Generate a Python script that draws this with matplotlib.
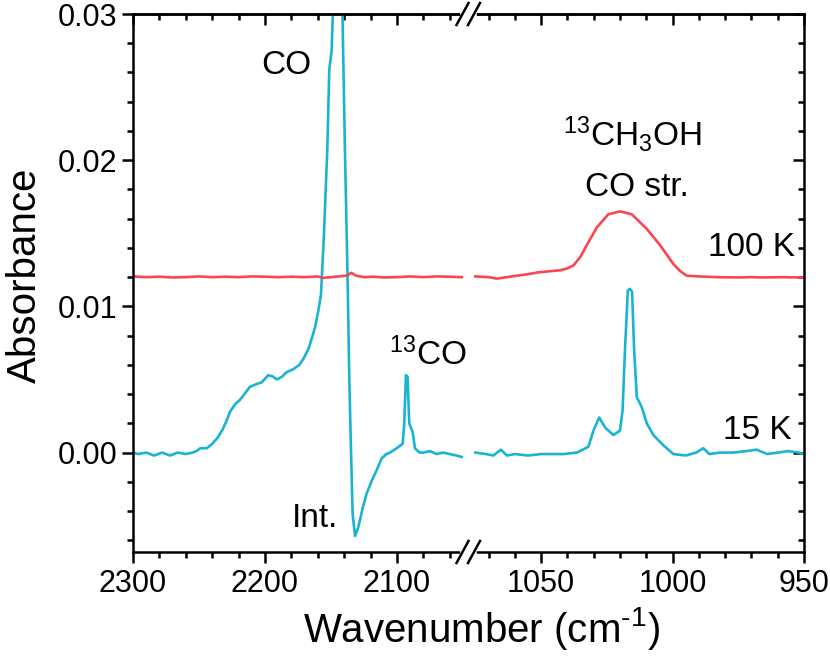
import matplotlib
matplotlib.use("Agg")
import matplotlib.pyplot as plt
from matplotlib.ticker import MultipleLocator, FormatStrFormatter
from matplotlib.lines import Line2D

plt.rcParams['font.family'] = ['Liberation Sans', 'DejaVu Sans']
plt.rcParams['mathtext.fontset'] = 'custom'
plt.rcParams['mathtext.rm'] = 'Liberation Sans'
plt.rcParams['mathtext.it'] = 'Liberation Sans:italic'
plt.rcParams['mathtext.bf'] = 'Liberation Sans:bold'

# ---------------- data ----------------
cyan_left_wn = [2300, 2296, 2290, 2284, 2278, 2272, 2266, 2260, 2255, 2252, 2249, 2244, 2240,
                2236, 2232, 2229, 2226.5, 2222.7, 2219, 2216.4, 2211.4, 2206, 2202.5, 2197.5,
                2194, 2191, 2187, 2183.6, 2178.6, 2174, 2171, 2167, 2164.6, 2162, 2159.6,
                2157.6, 2155.3, 2152.8, 2151.3, 2149.5, 2148.3, 2145, 2141.5, 2139.5, 2137.4,
                2136.1, 2134.8, 2133.6, 2131.8, 2129.3, 2126, 2123, 2119, 2115.4, 2111.6, 2108,
                2105.3, 2100.3, 2095.7, 2094.5, 2093.2, 2092, 2090.7, 2088.1, 2086.4, 2083,
                2080.3, 2075, 2070, 2065, 2060, 2055, 2051]
cyan_left_abs = [0.0000, -0.0001, 0.0000, -0.0002, 0.0000, -0.0002, 0.0000, -0.0001, 0.0000,
                 0.0001, 0.0003, 0.0003, 0.0006, 0.0010, 0.0016, 0.0022, 0.0028, 0.0033, 0.0036,
                 0.0039, 0.0045, 0.0047, 0.0048, 0.0053, 0.0052, 0.0050, 0.0052, 0.0055, 0.0057,
                 0.0060, 0.0064, 0.0071, 0.0078, 0.0086, 0.0097, 0.0108, 0.0150, 0.0207, 0.0262,
                 0.0275, 0.0310, 0.0700, 0.0310, 0.0210, 0.0118, 0.0049, 0.0000, -0.0042, -0.0057,
                 -0.0051, -0.0038, -0.0028, -0.0019, -0.0012, -0.0004, -0.0001, 0.0000, 0.0003,
                 0.0006, 0.0020, 0.0053, 0.0052, 0.0020, 0.0014, 0.0003, 0.0000, 0.0000, 0.0001,
                 -0.0001, 0.0000, -0.0001, -0.0002, -0.0003]

red_left_wn = [2300, 2290, 2280, 2270, 2260, 2250, 2240, 2230, 2220, 2210, 2200, 2190, 2180,
               2170, 2160, 2156, 2150, 2144, 2138, 2134.5, 2131, 2125, 2118, 2110, 2100, 2090,
               2080, 2070, 2060, 2051]
red_left_abs = [0.01205, 0.01200, 0.01203, 0.01198, 0.01200, 0.01205, 0.01200, 0.01203,
                0.01200, 0.01205, 0.01203, 0.01200, 0.01203, 0.01200, 0.01205, 0.01195,
                0.01200, 0.01205, 0.01210, 0.01230, 0.01210, 0.01200, 0.01203, 0.01198,
                0.01200, 0.01205, 0.01200, 0.01205, 0.01203, 0.01200]

red_right_wn = [1075, 1070, 1066.8, 1063, 1059.2, 1055, 1051, 1047, 1042.8, 1040, 1037.7, 1035,
                1032.6, 1028.8, 1024.4, 1020, 1015.5, 1009.8, 1004.8, 999.7, 997, 994.6, 990,
                983, 975, 970.5, 965, 958, 950]
red_right_abs = [0.01205, 0.0120, 0.0119, 0.0120, 0.0121, 0.0122, 0.01233, 0.01240, 0.01247,
                 0.0126, 0.0128, 0.0134, 0.0142, 0.0154, 0.0163, 0.0165, 0.0163, 0.0153, 0.0142,
                 0.0129, 0.0124, 0.0121, 0.01205, 0.0120, 0.01198, 0.0120, 0.01198, 0.0120,
                 0.01197]

cyan_right_wn = [1075, 1071, 1068.1, 1065.3, 1063, 1060, 1055, 1050, 1045, 1041.5, 1036.4, 1032,
                 1030.1, 1027.9, 1025.6, 1022.5, 1020, 1019, 1018.1, 1017, 1016.2, 1015.4,
                 1014.6, 1013.6, 1011.7, 1009.8, 1007.3, 1003.5, 999.7, 995, 991, 988.3, 986,
                 982, 977, 972, 968, 964, 960, 956, 952, 950]
cyan_right_abs = [0.0000, -0.0001, -0.0002, 0.0002, -0.0002, -0.0001, -0.0002, -0.0001,
                  -0.0001, -0.0001, 0.0000, 0.0004, 0.0015, 0.0024, 0.0017, 0.0012, 0.0015,
                  0.0029, 0.0070, 0.0111, 0.0112, 0.0110, 0.0070, 0.0038, 0.0031, 0.0020,
                  0.0012, 0.0005, -0.0001, -0.0002, 0.0000, 0.0003, -0.0001, 0.0000, 0.0000,
                  0.0001, 0.0002, -0.0001, 0.0000, 0.0001, 0.0000, -0.0001]

left_xlim = (2300, 2046.2)
right_xlim = (1077.8, 950)
ylim = (-0.0068, 0.030)

CYAN = '#1ab4d3'
RED = '#fb4552'
LW = 1.9
SPW = 1.8
TICK_FS = 22
ANN_FS = 24
LAB_FS = 29

# ---------------- figure ----------------
W, H = 830, 659
fig = plt.figure(figsize=(W / 100, H / 100), dpi=100)

def fx(px):
    return px / W

def fy(py):
    return 1 - py / H

x0, xs, x1 = 133, 468, 804
y0, y1 = 14, 552
axL = fig.add_axes([fx(x0), fy(y1), fx(xs - x0), (y1 - y0) / H])
axR = fig.add_axes([fx(xs), fy(y1), fx(x1 - xs), (y1 - y0) / H])

axL.plot(cyan_left_wn, cyan_left_abs, color=CYAN, lw=LW, solid_joinstyle='round')
axL.plot(red_left_wn, red_left_abs, color=RED, lw=LW, solid_joinstyle='round')
axR.plot(cyan_right_wn, cyan_right_abs, color=CYAN, lw=LW, solid_joinstyle='round')
axR.plot(red_right_wn, red_right_abs, color=RED, lw=LW, solid_joinstyle='round')

axL.set_xlim(*left_xlim)
axR.set_xlim(*right_xlim)
for ax in (axL, axR):
    ax.set_ylim(*ylim)
    for sp in ax.spines.values():
        sp.set_linewidth(SPW)
    ax.yaxis.set_major_locator(MultipleLocator(0.01))
    ax.yaxis.set_minor_locator(MultipleLocator(0.002))

axL.spines['right'].set_visible(False)
axR.spines['left'].set_visible(False)

axL.xaxis.set_major_locator(MultipleLocator(100))
axL.xaxis.set_minor_locator(MultipleLocator(20))
axR.xaxis.set_major_locator(MultipleLocator(50))
axR.xaxis.set_minor_locator(MultipleLocator(10))
axL.xaxis.set_major_formatter(FormatStrFormatter('%d'))
axR.xaxis.set_major_formatter(FormatStrFormatter('%d'))
axL.yaxis.set_major_formatter(FormatStrFormatter('%.2f'))

# bottom / left ticks out
axL.tick_params(axis='x', which='both', direction='out', bottom=True, top=False,
                labelsize=TICK_FS, width=SPW, pad=4)
axL.tick_params(axis='y', which='both', direction='out', left=True, right=False,
                labelsize=TICK_FS, width=SPW, pad=3)
axR.tick_params(axis='x', which='both', direction='out', bottom=True, top=False,
                labelsize=TICK_FS, width=SPW, pad=4)
axR.tick_params(axis='y', which='both', direction='in', left=False, right=True,
                labelleft=False, labelright=False, width=SPW)
for ax in (axL, axR):
    ax.tick_params(which='major', length=8)
    ax.tick_params(which='minor', length=4.5)

# top ticks pointing inward
for ax, maj, mnr in ((axL, 100, 20), (axR, 50, 10)):
    sec = ax.secondary_xaxis('top')
    sec.xaxis.set_major_locator(MultipleLocator(maj))
    sec.xaxis.set_minor_locator(MultipleLocator(mnr))
    sec.tick_params(which='both', direction='in', labeltop=False, width=SPW)
    sec.tick_params(which='major', length=8)
    sec.tick_params(which='minor', length=4.5)
    sec.spines['top'].set_linewidth(SPW)

# annotations
axL.text(2183.6, 0.0265, 'CO', fontsize=ANN_FS, ha='center', va='center')
axL.text(2162.1, -0.0045, 'Int.', fontsize=ANN_FS, ha='center', va='center')
axL.text(2076.5, 0.0067, r'$^{13}$CO', fontsize=ANN_FS, ha='center', va='center')
axR.text(1015.4, 0.0218, r'$^{13}$CH$_3$OH', fontsize=ANN_FS, ha='center', va='center')
axR.text(1013.6, 0.0181, 'CO str.', fontsize=ANN_FS, ha='center', va='center')
axR.text(953.4, 0.0140, '100 K', fontsize=ANN_FS, ha='right', va='center')
axR.text(954.6, 0.0015, '15 K', fontsize=ANN_FS, ha='right', va='center')

# axis labels
fig.text(fx(25), fy(275), 'Absorbance', rotation=90, fontsize=LAB_FS, ha='center', va='center')
fig.text(fx(482), fy(628), r'Wavenumber (cm$^{\text{-}1}$)', fontsize=LAB_FS,
         ha='center', va='center')

# axis break marks
for yc in (y0, y1):
    fig.add_artist(Line2D([fx(462), fx(474)], [fy(yc), fy(yc)], color='white',
                          lw=SPW + 1.5, transform=fig.transFigure, zorder=10))
    for xc in (462.5, 474):
        fig.add_artist(Line2D([fx(xc - 6), fx(xc + 6)], [fy(yc + 11), fy(yc - 11)],
                              color='black', lw=SPW, transform=fig.transFigure, zorder=11))

fig.savefig('out.png', dpi=100)
